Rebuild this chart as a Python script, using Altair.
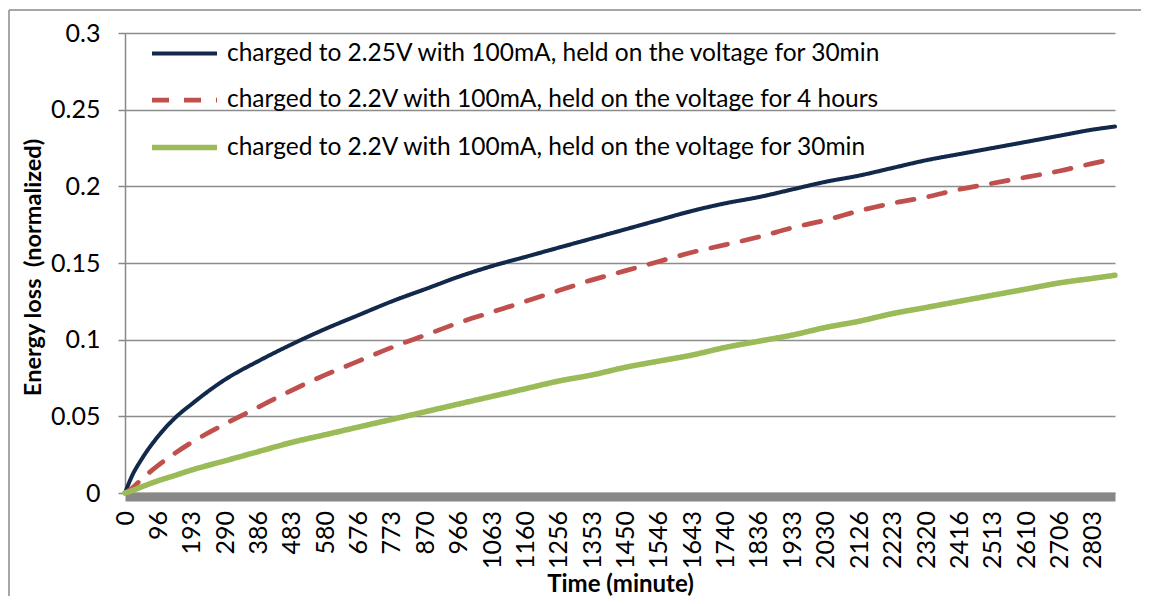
import altair as alt
import pandas as pd

# ---- data ----
time_min = [0, 20, 48, 96, 145, 193, 290, 386, 483, 580, 676, 773, 870, 966,
            1063, 1160, 1256, 1353, 1450, 1546, 1643, 1740, 1836, 1933, 2030,
            2126, 2223, 2320, 2416, 2513, 2610, 2706, 2803, 2867]

loss_225v_30min = [0, 0.011, 0.022, 0.037, 0.049, 0.058, 0.074, 0.086, 0.097,
                   0.107, 0.116, 0.125, 0.133, 0.141, 0.148, 0.154, 0.160,
                   0.166, 0.172, 0.178, 0.184, 0.189, 0.193, 0.198, 0.203,
                   0.207, 0.212, 0.217, 0.221, 0.225, 0.229, 0.233, 0.237, 0.239]

loss_22v_4h = [0, 0.003, 0.009, 0.018, 0.026, 0.033, 0.045, 0.056, 0.067,
               0.077, 0.086, 0.095, 0.103, 0.111, 0.118, 0.125, 0.132, 0.139,
               0.145, 0.151, 0.157, 0.162, 0.167, 0.173, 0.178, 0.184, 0.189,
               0.193, 0.198, 0.202, 0.206, 0.210, 0.215, 0.218]

loss_22v_30min = [0, 0.0015, 0.004, 0.008, 0.0115, 0.015, 0.021, 0.027, 0.033,
                  0.038, 0.043, 0.048, 0.053, 0.058, 0.063, 0.068, 0.073, 0.077,
                  0.082, 0.086, 0.090, 0.095, 0.099, 0.103, 0.108, 0.112, 0.117,
                  0.121, 0.125, 0.129, 0.133, 0.137, 0.140, 0.142]

series_names = [
    "charged to 2.25V with 100mA, held on the voltage for 30min",
    "charged to 2.2V with 100mA, held on the voltage for 4 hours",
    "charged to 2.2V with 100mA, held on the voltage for 30min",
]

x_tick_labels = [0, 96, 193, 290, 386, 483, 580, 676, 773, 870, 966, 1063, 1160,
                 1256, 1353, 1450, 1546, 1643, 1740, 1836, 1933, 2030, 2126,
                 2223, 2320, 2416, 2513, 2610, 2706, 2803]
y_ticks = [0, 0.05, 0.1, 0.15, 0.2, 0.25, 0.3]

rows = []
for name, vals in zip(series_names, [loss_225v_30min, loss_22v_4h, loss_22v_30min]):
    for t, v in zip(time_min, vals):
        rows.append({"Time": t, "Loss": v, "Series": name})
df = pd.DataFrame(rows)

FONT = "Lato"
colors = ["#13294b", "#c0504d", "#9bbb59"]
dashes = [[1, 0], [17, 15], [1, 0]]
widths = [4, 5.5, 6]

lines = alt.Chart(df).mark_line(interpolate="monotone", strokeCap="round").encode(
    x=alt.X("Time:Q",
            scale=alt.Scale(domain=[0, 2867], nice=False, zero=True),
            axis=alt.Axis(values=x_tick_labels, format="d", labelAngle=-90,
                          labelFont=FONT, labelFontSize=25, labelColor="#000000",
                          labelPadding=14, ticks=False, tickSize=0,
                          domainColor="#888888", domainWidth=9, offset=3.5,
                          grid=False, labelOverlap=False,
                          title="Time (minute)", titleFont=FONT, titleFontSize=24,
                          titleFontWeight="bold", titleColor="#000000",
                          titleX=495, titleY=88, titleBaseline="middle",
                          titleAnchor="middle")),
    y=alt.Y("Loss:Q",
            scale=alt.Scale(domain=[0, 0.3], nice=False),
            axis=alt.Axis(values=y_ticks, format="~g",
                          labelFont=FONT, labelFontSize=25, labelColor="#000000",
                          labelPadding=18, tickSize=7, tickColor="#888888",
                          tickWidth=1.5, domainColor="#888888", domainWidth=1.5,
                          grid=True, gridColor="#8c8c8c", gridWidth=1.5,
                          title="Energy loss\u00a0 (normalized)", titleFont=FONT,
                          titleFontSize=23.5, titleFontWeight="bold",
                          titleColor="#000000", titleAngle=-90,
                          titleX=-92, titleY=234, titleBaseline="middle",
                          titleAlign="center")),
    color=alt.Color("Series:N", scale=alt.Scale(domain=series_names, range=colors),
                    sort=series_names,
                    legend=alt.Legend(title=None, orient="none", legendX=24, legendY=-14,
                                      symbolType="stroke", symbolSize=4225,
                                      symbolStrokeWidth=5,
                                      labelFont=FONT, labelFontSize=24.5,
                                      labelColor="#000000", labelLimit=0,
                                      labelOffset=7, rowPadding=0,
                                      padding=0)),
    strokeDash=alt.StrokeDash("Series:N", scale=alt.Scale(domain=series_names, range=dashes),
                              sort=series_names),
    strokeWidth=alt.StrokeWidth("Series:N", scale=alt.Scale(domain=series_names, range=widths),
                                sort=series_names, legend=None),
)

one_row = alt.Chart(df).transform_filter(
    "datum.Time == 0 && datum.Series == '" + series_names[0] + "'")
frame_top = one_row.mark_rule(stroke="#8a8a8a", strokeWidth=1.5).encode(
    x=alt.value(-116), x2=alt.value(1100), y=alt.value(-23))
frame_left = one_row.mark_rule(stroke="#8a8a8a", strokeWidth=1.5).encode(
    x=alt.value(-116), y=alt.value(-23), y2=alt.value(620))

chart = alt.layer(frame_top, frame_left, lines).properties(
    width=990, height=460,
    autosize=alt.AutoSizeParams(type="none"),
    padding={"left": 117, "top": 25, "right": 26, "bottom": 103},
    background="white",
).configure_view(stroke=None)

chart.save("out.html", embed_options={"renderer": "svg", "actions": False})
